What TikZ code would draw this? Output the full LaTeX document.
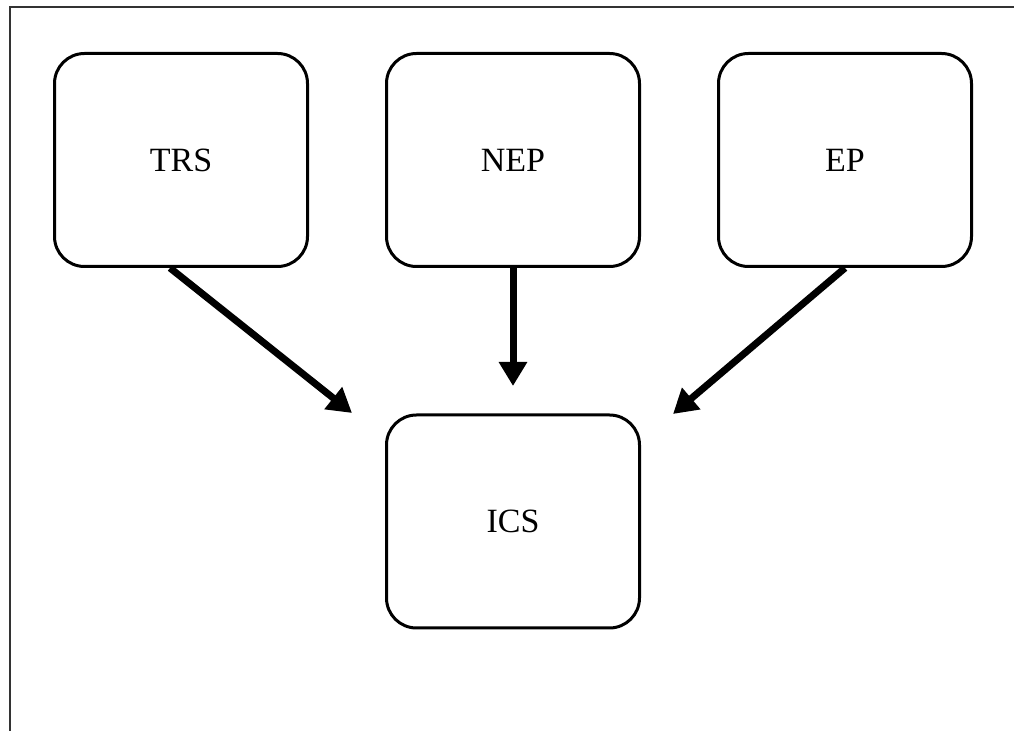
\documentclass[tikz,border=0pt]{standalone}
\usepackage{fontspec}
\setmainfont{Liberation Serif}
\usetikzlibrary{arrows.meta}
\begin{document}
\begin{tikzpicture}[x=0.5pt,y=-0.5pt,
  box/.style={draw=black,line width=1.5pt,rounded corners=15pt,
    minimum width=126.5pt,minimum height=106.5pt,inner sep=0pt,
    font=\fontsize{17}{20}\selectfont},
  flow/.style={line width=3.5pt,-{Triangle[length=12pt,width=13.5pt]}},
  frame/.style={draw=black!80,line width=1.1pt}]
\useasboundingbox (0,0) rectangle (1014,731);
\draw[frame] (1016,7) -- (10,7) -- (10,733);
\node[box] (trs) at (181,160) {TRS};
\node[box] (nep) at (513,160) {NEP};
\node[box] (ep)  at (845,160) {EP};
\node[box] (ics) at (513,521.5) {ICS};
\coordinate (t1) at (352,413);
\coordinate (t2) at (513,386);
\coordinate (t3) at (673,414);
\draw[flow] ([xshift=-5.5pt]trs.south) -- (t1);
\draw[flow] (nep.south) -- (t2);
\draw[flow] (ep.south) -- (t3);
\end{tikzpicture}
\end{document}
